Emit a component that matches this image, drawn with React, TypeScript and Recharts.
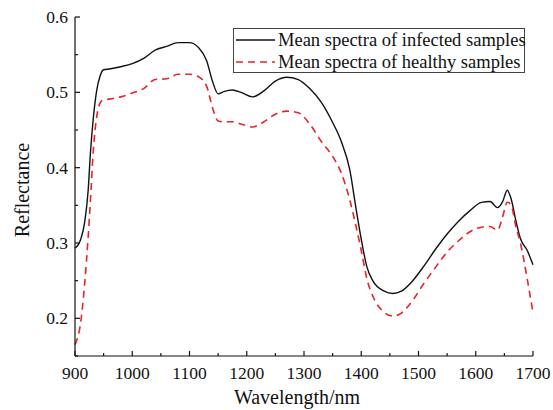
import React from 'react';
import { LineChart, Line, XAxis, YAxis } from 'recharts';

// wavelength samples (nm)
const wavelengths = [
  900, 910, 917, 923, 927, 932, 938, 944, 950, 960, 980, 1000, 1020, 1040, 1060, 1080, 1100, 1115,
  1130, 1140, 1150, 1160, 1175, 1190, 1210, 1230, 1250, 1270, 1290, 1310, 1330, 1350, 1365, 1380,
  1390, 1400, 1410, 1420, 1440, 1455, 1470, 1490, 1510, 1530, 1550, 1570, 1590, 1610, 1625, 1638,
  1647, 1655, 1662, 1670, 1678, 1690, 1700,
];

const infected = [
  0.293, 0.305, 0.328, 0.37, 0.42, 0.466, 0.503, 0.522, 0.53, 0.531, 0.534, 0.538, 0.545, 0.556,
  0.561, 0.566, 0.566, 0.56, 0.542, 0.515, 0.498, 0.501, 0.503, 0.5, 0.494, 0.502, 0.515, 0.52,
  0.517, 0.505, 0.487, 0.46, 0.435, 0.397, 0.35, 0.305, 0.268, 0.25, 0.236, 0.233, 0.236, 0.25,
  0.27, 0.292, 0.312, 0.329, 0.343, 0.354, 0.355, 0.347, 0.355, 0.37, 0.358, 0.33, 0.306, 0.29,
  0.271,
];

const healthy = [
  0.165, 0.195, 0.247, 0.308, 0.357, 0.423, 0.468, 0.486, 0.49, 0.491, 0.494, 0.499, 0.505, 0.517,
  0.518, 0.524, 0.524, 0.521, 0.508, 0.48, 0.462, 0.461, 0.461, 0.458, 0.454, 0.461, 0.471, 0.475,
  0.473, 0.458, 0.435, 0.415, 0.393, 0.357, 0.325, 0.29, 0.252, 0.23, 0.208, 0.203, 0.207, 0.224,
  0.247, 0.268, 0.288, 0.303, 0.315, 0.321, 0.322, 0.317, 0.335, 0.354, 0.35, 0.322, 0.3, 0.252,
  0.207,
];

const xTicks = [900, 950, 1000, 1050, 1100, 1150, 1200, 1250, 1300, 1350, 1400, 1450, 1500, 1550, 1600, 1650, 1700];
const yTicks = [0.15, 0.2, 0.25, 0.3, 0.35, 0.4, 0.45, 0.5, 0.55, 0.6];

const seriesNames = ['Mean spectra of infected samples', 'Mean spectra of healthy samples'];

const data = wavelengths.map((w, i) => ({ w, infected: infected[i], healthy: healthy[i] }));

const W = 553;
const H = 410;
const LEFT = 75;
const RIGHT = 533;
const TOP = 17;
const BOTTOM = 356;
const FONT = 'Liberation Serif';
const INK = '#111';
const RED = '#e8232b';
const DASH = '7 5';

const isMajorX = (v: number) => v % 100 === 0;
const isMajorY = (v: number) => Math.round(v * 100) % 10 === 0;

const BottomTick = (props: any) => {
  const { x, payload } = props;
  const major = isMajorX(payload.value);
  return (
    <g>
      <line x1={x} x2={x} y1={BOTTOM} y2={BOTTOM - (major ? 5 : 3)} stroke={INK} strokeWidth={1.2} />
      {major && (
        <text x={x} y={BOTTOM + 23} textAnchor="middle" fontFamily={FONT} fontSize={17.5} fill={INK}>
          {payload.value}
        </text>
      )}
    </g>
  );
};

const TopTick = (props: any) => {
  const { x, payload } = props;
  const major = isMajorX(payload.value);
  return <line x1={x} x2={x} y1={TOP} y2={TOP + (major ? 5 : 3)} stroke={INK} strokeWidth={1.2} />;
};

const LeftTick = (props: any) => {
  const { y, payload } = props;
  const major = isMajorY(payload.value);
  return (
    <g>
      <line x1={LEFT} x2={LEFT + (major ? 5 : 3)} y1={y} y2={y} stroke={INK} strokeWidth={1.2} />
      {major && (
        <text x={LEFT - 7} y={y + 6} textAnchor="end" fontFamily={FONT} fontSize={17.5} fill={INK}>
          {payload.value.toFixed(1)}
        </text>
      )}
    </g>
  );
};

const RightTick = (props: any) => {
  const { y, payload } = props;
  const major = isMajorY(payload.value);
  return <line x1={RIGHT} x2={RIGHT - (major ? 5 : 3)} y1={y} y2={y} stroke={INK} strokeWidth={1.2} />;
};

const LegendBox = () => (
  <svg
    width={292}
    height={45}
    style={{ position: 'absolute', left: 233, top: 28, overflow: 'visible' }}
  >
    <rect x={0.5} y={0.5} width={291} height={44} fill="#fff" stroke="#444" strokeWidth={1} />
    <line x1={3} x2={42} y1={12} y2={12} stroke={INK} strokeWidth={1.4} />
    <line x1={3} x2={42} y1={34} y2={34} stroke={RED} strokeWidth={1.6} strokeDasharray={DASH} />
    <text x={45} y={18} fontFamily={FONT} fontSize={18.5} fill={INK}>
      {seriesNames[0]}
    </text>
    <text x={45} y={40} fontFamily={FONT} fontSize={18.5} fill={INK}>
      {seriesNames[1]}
    </text>
  </svg>
);

export default function App() {
  return (
    <div style={{ position: 'absolute', left: 0, top: 0, width: W, height: H, background: '#fff' }}>
      <LineChart
        width={W}
        height={H}
        data={data}
        margin={{ top: TOP, right: W - RIGHT, left: 0, bottom: 0 }}
      >
        <XAxis
          dataKey="w"
          type="number"
          domain={[900, 1700]}
          ticks={xTicks}
          interval={0}
          height={H - BOTTOM}
          tickLine={false}
          tick={<BottomTick />}
          axisLine={{ stroke: INK, strokeWidth: 1.2 }}
          label={{
            content: () => (
              <text x={297} y={404} textAnchor="middle" fontFamily={FONT} fontSize={20} fill={INK}>
                Wavelength/nm
              </text>
            ),
          }}
        />
        <XAxis
          xAxisId="top"
          dataKey="w"
          type="number"
          orientation="top"
          domain={[900, 1700]}
          ticks={xTicks}
          interval={0}
          height={0}
          tickLine={false}
          tick={<TopTick />}
          axisLine={{ stroke: INK, strokeWidth: 1.2 }}
        />
        <YAxis
          type="number"
          domain={[0.15, 0.6]}
          ticks={yTicks}
          interval={0}
          width={LEFT}
          tickLine={false}
          tick={<LeftTick />}
          axisLine={{ stroke: INK, strokeWidth: 1.2 }}
          label={{
            content: () => (
              <text
                x={29}
                y={190}
                transform="rotate(-90 29 190)"
                textAnchor="middle"
                fontFamily={FONT}
                fontSize={20}
                fill={INK}
              >
                Reflectance
              </text>
            ),
          }}
        />
        <YAxis
          yAxisId="right"
          type="number"
          orientation="right"
          domain={[0.15, 0.6]}
          ticks={yTicks}
          interval={0}
          width={0}
          tickLine={false}
          tick={<RightTick />}
          axisLine={{ stroke: INK, strokeWidth: 1.2 }}
        />
        <Line
          type="monotone"
          dataKey="infected"
          name={seriesNames[0]}
          stroke={INK}
          strokeWidth={1.4}
          dot={false}
          isAnimationActive={false}
        />
        <Line
          type="monotone"
          dataKey="healthy"
          name={seriesNames[1]}
          stroke={RED}
          strokeWidth={1.6}
          strokeDasharray={DASH}
          dot={false}
          isAnimationActive={false}
        />
      </LineChart>
      <LegendBox />
    </div>
  );
}
